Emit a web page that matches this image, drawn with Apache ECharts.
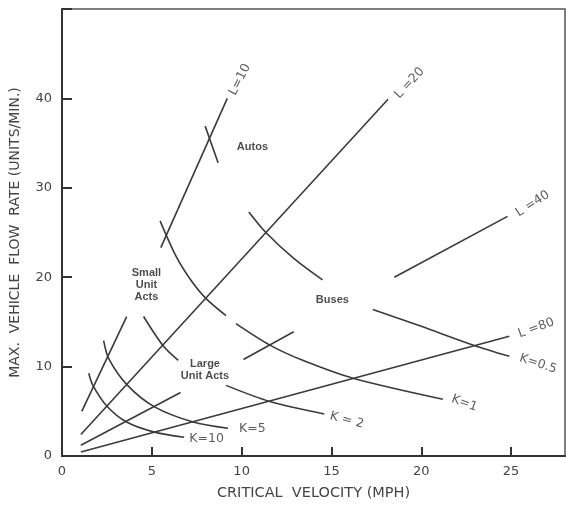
<!DOCTYPE html>
<html>
<head>
<meta charset="utf-8">
<script src="https://cdn.jsdelivr.net/npm/echarts@6/dist/echarts.min.js"></script>
<style>
  html, body { margin: 0; padding: 0; background: #fff; }
  #chart { width: 566px; height: 506px; }
</style>
</head>
<body>
<div id="chart"></div>
<script>
// tick labels
const xTickLabels = [0, 5, 10, 15, 20, 25]
const yTickLabels = [0, 10, 20, 30, 40]

// L lines (straight, broken round the region labels)
const lineL10Low = [[1.1, 5.0], [3.6, 15.6]]
const lineL10High = [[5.5, 23.3], [9.2, 40.0]]
const lineL20 = [[1.05, 2.4], [18.15, 39.9]]
const lineL40Low = [[1.05, 1.2], [6.6, 7.1]]
const lineL40Mid = [[10.1, 10.8], [12.9, 13.9]]
const lineL40High = [[18.5, 20.0], [24.8, 26.8]]
const lineL80 = [[1.05, 0.45], [24.9, 13.4]]

// K curves
const curveK05a = [[7.97, 36.9], [8.69, 32.8]]
const curveK05b = [[10.4, 27.3], [11.35, 25.0], [12.9, 22.1], [14.5, 19.7]]
const curveK05c = [[17.3, 16.4], [20.0, 14.5], [22.9, 12.4], [24.9, 11.15]]
const curveK1a = [[5.46, 26.3], [6.36, 22.3], [7.2, 19.6], [8.02, 17.6], [9.13, 15.7]]
const curveK1b = [[9.68, 14.8], [11.57, 12.4], [13.4, 10.7], [16.2, 8.7], [21.2, 6.35]]
const curveK2a = [[4.54, 15.6], [5.64, 12.3], [6.47, 10.7]]
const curveK2b = [[9.13, 7.9], [11.57, 6.1], [14.6, 4.7]]
const curveK5 = [[2.32, 12.9], [2.6, 10.9], [3.65, 7.9], [5.15, 5.5], [7.3, 3.8], [9.24, 3.1]]
const curveK10 = [[1.49, 9.25], [1.72, 7.9], [2.49, 5.6], [3.6, 3.8], [5.09, 2.7], [6.8, 2.1]]

// line tags: text, x, y
const lineTags = [
  ['L=10', 9.9, 42.1],
  ['L =20', 19.35, 41.7],
  ['L =40', 26.2, 28.2],
  ['L =80', 26.4, 14.3],
  ['K=0.5', 26.5, 10.3],
  ['K=1', 22.4, 5.9],
  ['K = 2', 15.85, 4.0],
  ['K=5', 10.6, 3.1],
  ['K=10', 8.05, 1.9],
]
// region tags: text, x, y
const regionTags = [
  ['Autos', 10.6, 34.6],
  ['Small\nUnit\nActs', 4.7, 19.1],
  ['Large\nUnit Acts', 7.96, 9.6],
  ['Buses', 15.05, 17.4],
]

const tagAngle = { 'L=10': 63, 'L =20': 47, 'L =40': 33, 'L =80': 20, 'K=0.5': -18, 'K=1': -20, 'K = 2': -15 }

const ink = '#3a3a3a'
const straight = [lineL10Low, lineL10High, lineL20, lineL40Low, lineL40Mid, lineL40High, lineL80]
const curved = [curveK05a, curveK05b, curveK05c, curveK1a, curveK1b, curveK2a, curveK2b, curveK5, curveK10]

let series = []
straight.forEach(seg => {
  series.push({
    type: 'line', data: seg, showSymbol: false, symbol: 'none', silent: true,
    lineStyle: { color: ink, width: 1.6 },
  })
})
curved.forEach(seg => {
  series.push({
    type: 'line', data: seg, showSymbol: false, symbol: 'none', silent: true,
    smooth: 0.3,
    lineStyle: { color: ink, width: 1.6 },
  })
})
series.push({
  type: 'scatter', symbolSize: 0, silent: true,
  data: lineTags.map(t => ({
    name: t[0], value: [t[1], t[2]],
    label: { rotate: tagAngle[t[0]] || 0 },
  })),
  label: {
    show: true, position: 'inside', formatter: p => p.name,
    color: '#333', fontSize: 12.5, fontFamily: 'DejaVu Sans',
  },
})
series.push({
  type: 'scatter', symbolSize: 0, silent: true,
  data: regionTags.map(t => ({ name: t[0], value: [t[1], t[2]] })),
  label: {
    show: true, position: 'inside', formatter: p => p.name,
    color: '#1e1e1e', fontSize: 11, fontWeight: 'bold', lineHeight: 12,
    fontFamily: 'Liberation Sans', align: 'center',
  },
})

const chart = echarts.init(document.getElementById('chart'))
chart.setOption({
  animation: false,
  grid: {
    left: 59, right: 1, top: 9, bottom: 48,
    show: true, borderColor: '#555', borderWidth: 1.5,
  },
  xAxis: {
    type: 'value', min: 0, max: 28, interval: 5,
    name: 'CRITICAL  VELOCITY (MPH)', nameLocation: 'middle', nameGap: 30,
    nameTextStyle: { color: '#444', fontSize: 14.5, fontFamily: 'DejaVu Sans' },
    axisLine: { lineStyle: { color: '#333', width: 2 } },
    axisTick: { inside: true, length: 9, lineStyle: { color: '#333', width: 2 } },
    axisLabel: {
      color: '#444', fontSize: 13, fontFamily: 'DejaVu Sans', margin: 9,
      showMaxLabel: false,
      formatter: v => (xTickLabels.includes(v) ? String(v) : ''),
    },
    splitLine: { show: false },
  },
  yAxis: {
    type: 'value', min: 0, max: 50, interval: 10,
    name: 'MAX.  VEHICLE  FLOW  RATE (UNITS/MIN.)', nameLocation: 'middle', nameGap: 40,
    nameTextStyle: { color: '#444', fontSize: 14, fontFamily: 'DejaVu Sans' },
    axisLine: { lineStyle: { color: '#333', width: 2 } },
    axisTick: { inside: true, length: 10, lineStyle: { color: '#333', width: 2 } },
    axisLabel: {
      color: '#444', fontSize: 13, fontFamily: 'DejaVu Sans', margin: 10,
      formatter: v => (yTickLabels.includes(v) ? String(v) : ''),
    },
    splitLine: { show: false },
  },
  series: series,
})
</script>
</body>
</html>
